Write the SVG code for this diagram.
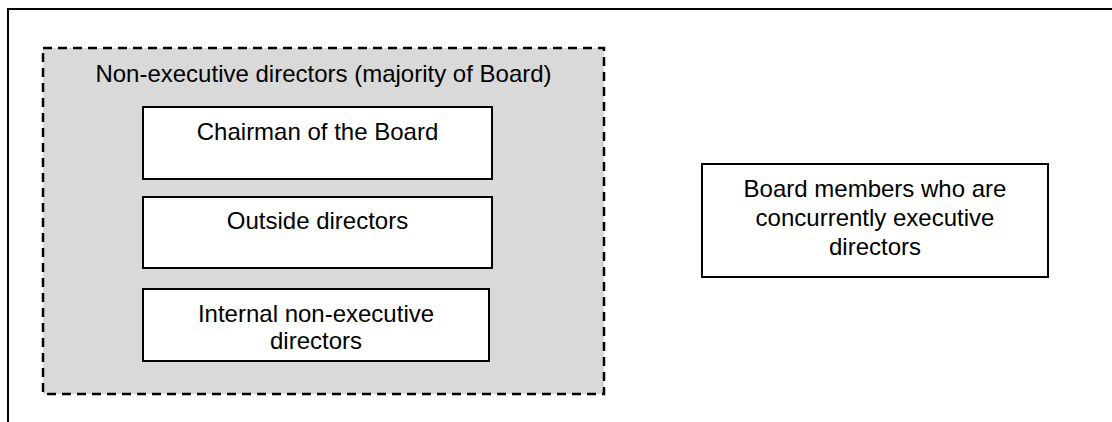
<svg xmlns="http://www.w3.org/2000/svg" width="1112" height="422" viewBox="0 0 1112 422">
  <style>
    .frame { fill: none; stroke: #000; stroke-width: 2; }
    .group { fill: #d9d9d9; stroke: #000; stroke-width: 2.5; stroke-dasharray: 9 6; }
    .box { fill: #fff; stroke: #000; stroke-width: 2; }
    .label { font-family: "Liberation Sans", Arial, sans-serif; font-size: 24px; fill: #000; text-anchor: middle; }
  </style>
  <rect width="1112" height="422" fill="#fff"/>
  <!-- outer frame, open to the right and bottom -->
  <path class="frame" d="M8,422 V9 H1112"/>

  <g id="non-executive-directors">
    <rect class="group" x="43" y="48" width="561" height="346"/>
    <text class="label" x="323.5" y="82">Non-executive directors (majority of Board)</text>
  </g>

  <g id="chairman">
    <rect class="box" x="143" y="107" width="349" height="72"/>
    <text class="label" x="317.5" y="140">Chairman of the Board</text>
  </g>

  <g id="outside-directors">
    <rect class="box" x="143" y="197" width="349" height="71"/>
    <text class="label" x="317.5" y="229">Outside directors</text>
  </g>

  <g id="internal-non-executive">
    <rect class="box" x="143" y="289" width="346" height="72"/>
    <text class="label" x="316" y="322">Internal non-executive</text>
    <text class="label" x="316" y="349">directors</text>
  </g>

  <g id="executive-board-members">
    <rect class="box" x="702" y="164" width="346" height="113"/>
    <text class="label" x="875" y="197">Board members who are</text>
    <text class="label" x="875" y="226">concurrently executive</text>
    <text class="label" x="875" y="255">directors</text>
  </g>

  <g id="connectors"></g>
</svg>
